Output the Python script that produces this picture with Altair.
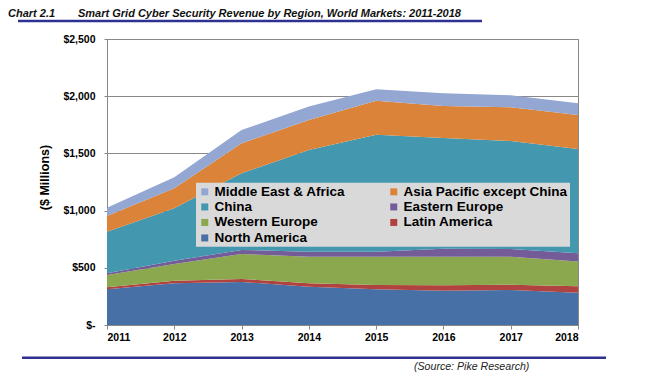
import altair as alt
import pandas as pd

years = [2011, 2012, 2013, 2014, 2015, 2016, 2017, 2018]
north_america = [312, 364, 376, 335, 312, 300, 305, 283]
latin_america = [18, 22, 27, 30, 38, 48, 46, 56]
western_europe = [107, 147, 218, 232, 247, 249, 246, 215]
eastern_europe = [15, 29, 35, 44, 44, 70, 67, 73]
china = [363, 458, 670, 889, 1023, 968, 944, 911]
asia_pacific = [138, 175, 262, 262, 297, 279, 295, 298]
middle_east_africa = [72, 96, 117, 117, 99, 111, 105, 102]

regions = ["North America", "Latin America", "Western Europe", "Eastern Europe",
           "China", "Asia Pacific except China", "Middle East & Africa"]
colors = ["#4670A6", "#B0423F", "#8BA84E", "#745C99", "#4397AF", "#DB8439", "#93A7D2"]
series = [north_america, latin_america, western_europe, eastern_europe,
          china, asia_pacific, middle_east_africa]
y_ticks = [0, 500, 1000, 1500, 2000, 2500]

# legend reading order (two columns, filled column by column)
legend_order = ["Middle East & Africa", "China", "Western Europe", "North America",
                "Asia Pacific except China", "Eastern Europe", "Latin America"]

rows = []
for i, (name, vals) in enumerate(zip(regions, series)):
    for yr, v in zip(years, vals):
        rows.append({"Year": yr, "Region": name, "Revenue": v, "order": i})
df = pd.DataFrame(rows)

color_of = dict(zip(regions, colors))
color_range = [color_of[r] for r in legend_order]

SANS = '"Liberation Sans", Arial, sans-serif'

area = alt.Chart(df).mark_area(interpolate="linear", opacity=1).encode(
    x=alt.X("Year:Q",
            scale=alt.Scale(domain=[2011, 2018], nice=False, zero=False),
            axis=alt.Axis(values=years, format="d", title=None, grid=False,
                          labelFontWeight="bold", labelFontSize=10.5, labelColor="black",
                          tickSize=4, labelPadding=3, domainColor="#888888",
                          tickColor="#888888")),
    y=alt.Y("Revenue:Q", stack="zero",
            scale=alt.Scale(domain=[0, 2500], nice=False),
            axis=alt.Axis(values=y_ticks,
                          labelExpr="datum.value == 0 ? '$-' : '$' + format(datum.value, ',')",
                          title="($ Millions)", titleFontSize=12.5, titleFontWeight="bold",
                          titleColor="black", titleX=-63, titleY=138,
                          titleBaseline="middle", titleAlign="center",
                          labelFontWeight="bold", labelFontSize=10.5, labelColor="black",
                          tickSize=3, labelPadding=9, grid=True, gridColor="#888888",
                          domainColor="#888888", tickColor="#888888")),
    color=alt.Color("Region:N",
                    scale=alt.Scale(domain=legend_order, range=color_range),
                    legend=alt.Legend(title=None, orient="none", legendX=89, legendY=143.7,
                                      direction="vertical", columns=2, columnPadding=41,
                                      rowPadding=0.5, symbolType="square", symbolSize=49,
                                      symbolStrokeWidth=0, symbolOpacity=1, symbolOffset=0,
                                      labelFontSize=13.5, labelFontWeight="bold",
                                      labelColor="black", labelLimit=300, labelOffset=3,
                                      fillColor="#D9D9D9", padding=2)),
    order=alt.Order("order:Q", sort="ascending"),
)

dummy = pd.DataFrame({"k": [0]})

chart_label = alt.Chart(dummy).mark_text(
    text="Chart 2.1", font=SANS, fontSize=11, fontWeight="bold", fontStyle="italic",
    align="left", baseline="alphabetic", color="#111111"
).encode(x=alt.value(-99), y=alt.value(-22.5))

main_title = alt.Chart(dummy).mark_text(
    text="Smart Grid Cyber Security Revenue by Region, World Markets:  2011-2018",
    font=SANS, fontSize=11, fontWeight="bold", fontStyle="italic",
    align="left", baseline="alphabetic", color="#111111"
).encode(x=alt.value(-29), y=alt.value(-22.5))

rule_top = alt.Chart(dummy).mark_rule(color="#2E3192", strokeWidth=2.5).encode(
    x=alt.value(-89), x2=alt.value(375), y=alt.value(-18))

rule_bottom = alt.Chart(dummy).mark_rule(color="#2E3192", strokeWidth=2.5).encode(
    x=alt.value(-85), x2=alt.value(499), y=alt.value(318.8))

source = alt.Chart(dummy).mark_text(
    text="(Source: Pike Research)", font=SANS, fontSize=10.6, fontStyle="italic",
    align="left", baseline="alphabetic", color="#222222"
).encode(x=alt.value(307), y=alt.value(331))

chart = alt.layer(area, rule_top, chart_label, main_title, rule_bottom, source).properties(
    width=471, height=286,
    padding={"left": 99, "top": 31, "right": 70, "bottom": 47},
    autosize=alt.AutoSizeParams(type="none"),
).configure(font=SANS).configure_view(stroke="#888888", strokeWidth=1)

chart.save("out.html", embed_options={"renderer": "svg", "actions": False})
